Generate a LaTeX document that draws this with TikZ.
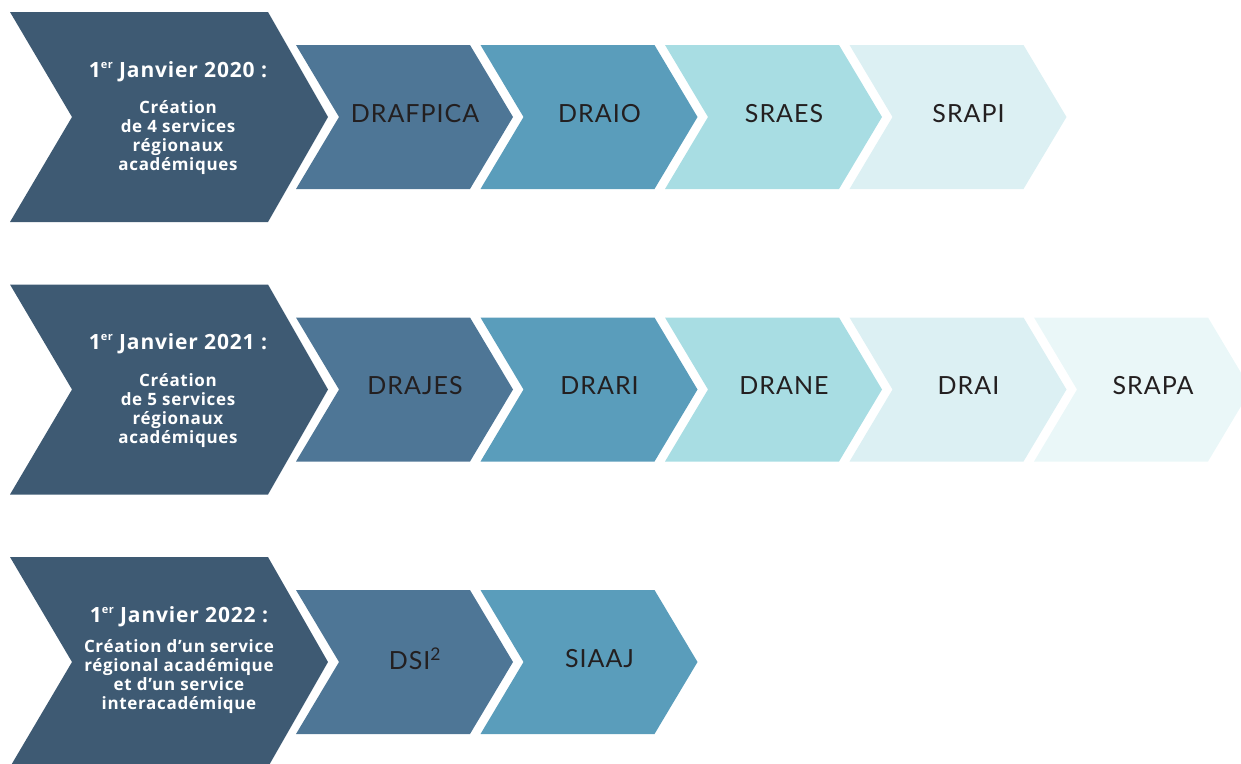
\documentclass[tikz,border=0pt]{standalone}
\usepackage{fontspec}
\setmainfont{Open Sans}
\newfontfamily\labfont[LetterSpace=4]{Lato}
\newfontfamily\headfont[LetterSpace=4]{Open Sans Bold}
\definecolor{cBig}{HTML}{3E5A73}
\definecolor{cA}{HTML}{4E7696}
\definecolor{cB}{HTML}{5A9DBB}
\definecolor{cC}{HTML}{A8DDE3}
\definecolor{cD}{HTML}{DCF0F3}
\definecolor{cE}{HTML}{EAF7F8}
\definecolor{cText}{HTML}{231F20}
\tikzset{
  titletext/.style={text=white,font=\headfont\fontsize{21}{24}\selectfont,inner sep=0pt},
  subtext/.style={text=white,font=\headfont\fontsize{17}{19}\selectfont,align=center,inner sep=0pt},
  labtext/.style={text=cText,font=\labfont\fontsize{25}{28}\selectfont,inner sep=0pt},
}
\newcommand{\bigchev}[1]{%
  \fill[cBig] (10,#1-105) -- (268,#1-105) -- (328,#1) -- (268,#1+105) -- (10,#1+105) -- (72,#1) -- cycle;}
% small chevron: #1 left x, #2 centre y, #3 colour, #4 name, #5 text
\newcommand{\smallchev}[5]{%
  \fill[#3] (#1,#2-72) -- (#1+174,#2-72) -- (#1+217,#2) -- (#1+174,#2+72) -- (#1,#2+72) -- (#1+43,#2) -- cycle;
  \node[labtext] (#4) at (#1+119,#2-3.5) {#5};}
\newcommand{\er}{\raisebox{0.42em}{\fontsize{11}{11}\selectfont er}}
\begin{document}
\begin{tikzpicture}[x=1pt,y=-1pt]
\useasboundingbox (0,0) rectangle (1241,763);
\clip (0,0) rectangle (1241,763);
% Row 1
\bigchev{117}
\node[titletext,anchor=base] (t1) at (178,77) {1\er{} Janvier 2020 :};
\node[subtext] (s1) at (178,138) {Création\\de 4 services\\régionaux\\académiques};
\smallchev{296}{117}{cA}{r1a}{DRAFPICA}
\smallchev{480.5}{117}{cB}{r1b}{DRAIO}
\smallchev{665}{117}{cC}{r1c}{SRAES}
\smallchev{849.5}{117}{cD}{r1d}{SRAPI}
% Row 2
\bigchev{389.5}
\node[titletext,anchor=base] (t2) at (178,349.5) {1\er{} Janvier 2021 :};
\node[subtext] (s2) at (178,410.5) {Création\\de 5 services\\régionaux\\académiques};
\smallchev{296}{389.5}{cA}{r2a}{DRAJES}
\smallchev{480.5}{389.5}{cB}{r2b}{DRARI}
\smallchev{665}{389.5}{cC}{r2c}{DRANE}
\smallchev{849.5}{389.5}{cD}{r2d}{DRAI}
\smallchev{1034}{389.5}{cE}{r2e}{SRAPA}
% Row 3
\bigchev{662}
\node[titletext,anchor=base] (t3) at (179,622) {1\er{} Janvier 2022 :};
\node[subtext] (s3) at (179,677) {Création d’un service\\régional académique\\et d’un service\\interacadémique};
\smallchev{296}{662}{cA}{r3a}{DSI\textsuperscript{2}}
\smallchev{480.5}{662}{cB}{r3b}{SIAAJ}
\end{tikzpicture}
\end{document}
